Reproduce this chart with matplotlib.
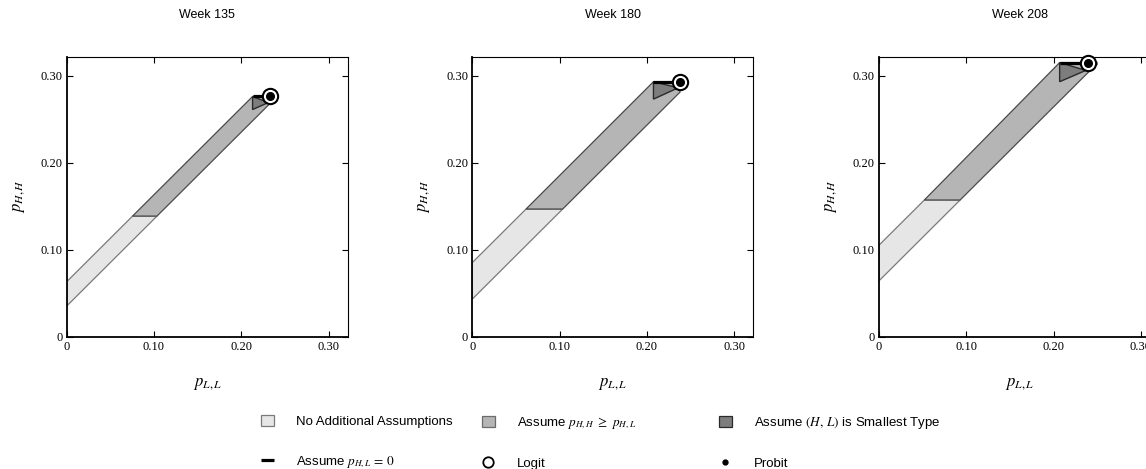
import matplotlib
matplotlib.use("Agg")
import matplotlib.pyplot as plt
from matplotlib.patches import Polygon, Patch
from matplotlib.lines import Line2D

plt.rcParams['mathtext.fontset'] = 'stix'
plt.rcParams['font.family'] = ['Liberation Sans', 'DejaVu Sans']

# identified sets, one entry per week
weeks = [135, 180, 208]
upper_intercept = [0.063, 0.085, 0.105]   # upper bound of p_HH at p_LL = 0
lower_intercept = [0.035, 0.043, 0.064]   # lower bound of p_HH at p_LL = 0
junction_phh = [0.1385, 0.1466, 0.157]    # where p_HH >= p_HL starts to bind
top_pll = [0.213, 0.2076, 0.207]          # left end of the top edge
top_phh = [0.276, 0.293, 0.315]
lower_end_pll = [0.233, 0.238, 0.244]
lower_end_phh = [0.268, 0.281, 0.308]
corner_pll = [0.233, 0.238, 0.240]       # right end of the top edge of the band
tri_bottom_phh = [0.261, 0.273, 0.293]   # smallest-type triangle
tri_tip = [(0.231, 0.269), (0.236, 0.286), (0.237, 0.306)]
zero_hl_end = [0.233, 0.238, 0.250]       # end of the p_HL = 0 segment
logit_pt = [(0.233, 0.277), (0.238, 0.293), (0.240, 0.314)]
probit_pt = [(0.233, 0.277), (0.238, 0.293), (0.240, 0.314)]

ticks = [0, 0.10, 0.20, 0.30]
tick_labels = ['0', '0.10', '0.20', '0.30']
lim = 0.322

light, light_edge = '#e6e6e6', '#7a7a7a'
mid, mid_edge = '#b5b5b5', '#4a4a4a'
dark, dark_edge = '#7d7d7d', '#2a2a2a'

W, H = 1146, 469
fig = plt.figure(figsize=(W / 100, H / 100), dpi=100)

lefts = [66.7, 472.3, 879.0]
for i, wk in enumerate(weeks):
    ax = fig.add_axes([lefts[i] / W, 132.5 / H, 281 / W, 280 / H])
    ui, li, jy = upper_intercept[i], lower_intercept[i], junction_phh[i]
    ux, lx = jy - ui, jy - li

    # no additional assumptions (lower part of the band)
    ax.add_patch(Polygon([(0, li), (0, ui), (ux, jy), (lx, jy)], closed=True,
                         facecolor=light, edgecolor=light_edge, lw=0.9, zorder=2))
    # p_HH >= p_HL
    ax.add_patch(Polygon([(ux, jy), (top_pll[i], top_phh[i]), (corner_pll[i], top_phh[i]),
                          (lower_end_pll[i], lower_end_phh[i]), (lx, jy)], closed=True,
                         facecolor=mid, edgecolor=mid_edge, lw=0.9, zorder=3))
    # (H, L) smallest type
    ax.add_patch(Polygon([(top_pll[i], top_phh[i]), (top_pll[i], tri_bottom_phh[i]), tri_tip[i]],
                         closed=True, facecolor=dark, edgecolor=dark_edge, lw=1.0, zorder=4))
    # p_HL = 0
    ax.plot([top_pll[i], zero_hl_end[i]], [top_phh[i], top_phh[i]], color='black', lw=2.3,
            solid_capstyle='butt', zorder=5)
    ax.plot(*logit_pt[i], 'o', ms=11, mfc='white', mec='black', mew=1.5, zorder=6, clip_on=False)
    ax.plot(*probit_pt[i], 'o', ms=5.5, color='black', zorder=7, clip_on=False)

    ax.set_xlim(0, lim)
    ax.set_ylim(0, lim)
    ax.set_xticks(ticks)
    ax.set_yticks(ticks)
    ax.set_xticklabels(tick_labels, family='Liberation Serif', fontsize=9)
    ax.set_yticklabels(tick_labels, family='Liberation Serif', fontsize=9)
    ax.tick_params(direction='in', length=4, width=0.8, top=True, right=True, pad=3)
    for s in ['left', 'bottom']:
        ax.spines[s].set_linewidth(1.3)
    for s in ['top', 'right']:
        ax.spines[s].set_linewidth(0.8)
    ax.set_xlabel(r'$p_{L,L}$', fontsize=12, labelpad=17)
    ax.set_ylabel(r'$p_{H,H}$', fontsize=12, labelpad=10)
    ax.set_title(f'Week {wk}', fontsize=9, pad=28)

# legend: three columns of two rows each
columns = [
    ([Patch(facecolor=light, edgecolor=light_edge, lw=0.9),
      Line2D([], [], color='black', lw=2.3, solid_capstyle='butt')],
     ['No Additional Assumptions', r'Assume $p_{H,L}\, =\, 0$']),
    ([Patch(facecolor=mid, edgecolor='#6a6a6a', lw=0.9),
      Line2D([], [], ls='none', marker='o', ms=7.5, mfc='white', mec='black', mew=1.3)],
     [r'Assume $p_{H,H}\ \geq\ p_{H,L}$', 'Logit']),
    ([Patch(facecolor=dark, edgecolor=dark_edge, lw=0.9),
      Line2D([], [], ls='none', marker='o', ms=3.5, color='black')],
     [r'Assume $(H,\, L)$ is Smallest Type', 'Probit']),
]
col_x = [261, 482, 719]
for (hs, ls), x in zip(columns, col_x):
    fig.legend(hs, ls, frameon=False, loc='upper left',
               bbox_to_anchor=(x / W, 1 - 415 / H), borderaxespad=0, borderpad=0,
               fontsize=9.5, handlelength=0.95, handleheight=0.95, handletextpad=1.7,
               labelspacing=1.95)

fig.savefig('out.png', dpi=100)
